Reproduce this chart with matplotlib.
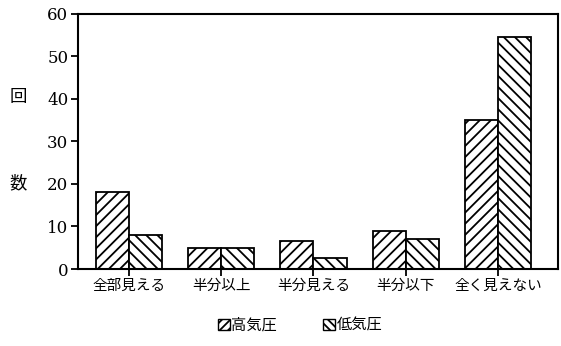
import numpy as np
import matplotlib.pyplot as plt
from matplotlib.patches import Patch

plt.rcParams['hatch.linewidth'] = 1.3

# data
categories = ['全部見える', '半分以上', '半分見える', '半分以下', '全く見えない']
high_pressure = [18, 5, 6.5, 9, 35]
low_pressure = [8, 5, 2.5, 7, 54.5]
series_names = ['高気圧', '低気圧']

jp = ['Noto Sans CJK JP', 'DejaVu Sans']

fig = plt.figure(figsize=(5.61, 3.46), dpi=100)
ax = fig.add_axes([0.139, 0.2225, 0.856, 0.7375])

x = np.arange(len(categories))
w = 0.36
ax.bar(x - w / 2, high_pressure, w, facecolor='white', edgecolor='black',
       hatch='///', linewidth=1.3)
ax.bar(x + w / 2, low_pressure, w, facecolor='white', edgecolor='black',
       hatch='\\\\\\', linewidth=1.3)

ax.set_xlim(-0.55, 4.65)
ax.set_ylim(0, 60)
ax.set_yticks(range(0, 61, 10))
ax.set_xticks(x)
ax.set_xticklabels(categories, family=jp, fontsize=10.5)
for lab in ax.get_yticklabels():
    lab.set_family('DejaVu Serif')
    lab.set_fontsize(12)
ax.tick_params(axis='both', direction='out', length=5, width=1.3, pad=2)
for s in ax.spines.values():
    s.set_linewidth(1.5)

# vertical y label, one character per line with gap
fig.text(0.032, 0.72, '回', family=jp, fontsize=12.5, ha='center', va='center')
fig.text(0.032, 0.47, '数', family=jp, fontsize=12.5, ha='center', va='center')

handles = [Patch(facecolor='white', edgecolor='black', hatch='////', linewidth=1),
           Patch(facecolor='white', edgecolor='black', hatch='\\\\\\\\', linewidth=1)]
fig.legend(handles, series_names, loc='center', bbox_to_anchor=(0.535, 0.06),
           ncol=2, frameon=False, prop={'family': jp, 'size': 11},
           handlelength=0.8, handleheight=0.8, handletextpad=0.1, columnspacing=3)

fig.savefig('out.png', dpi=100)
